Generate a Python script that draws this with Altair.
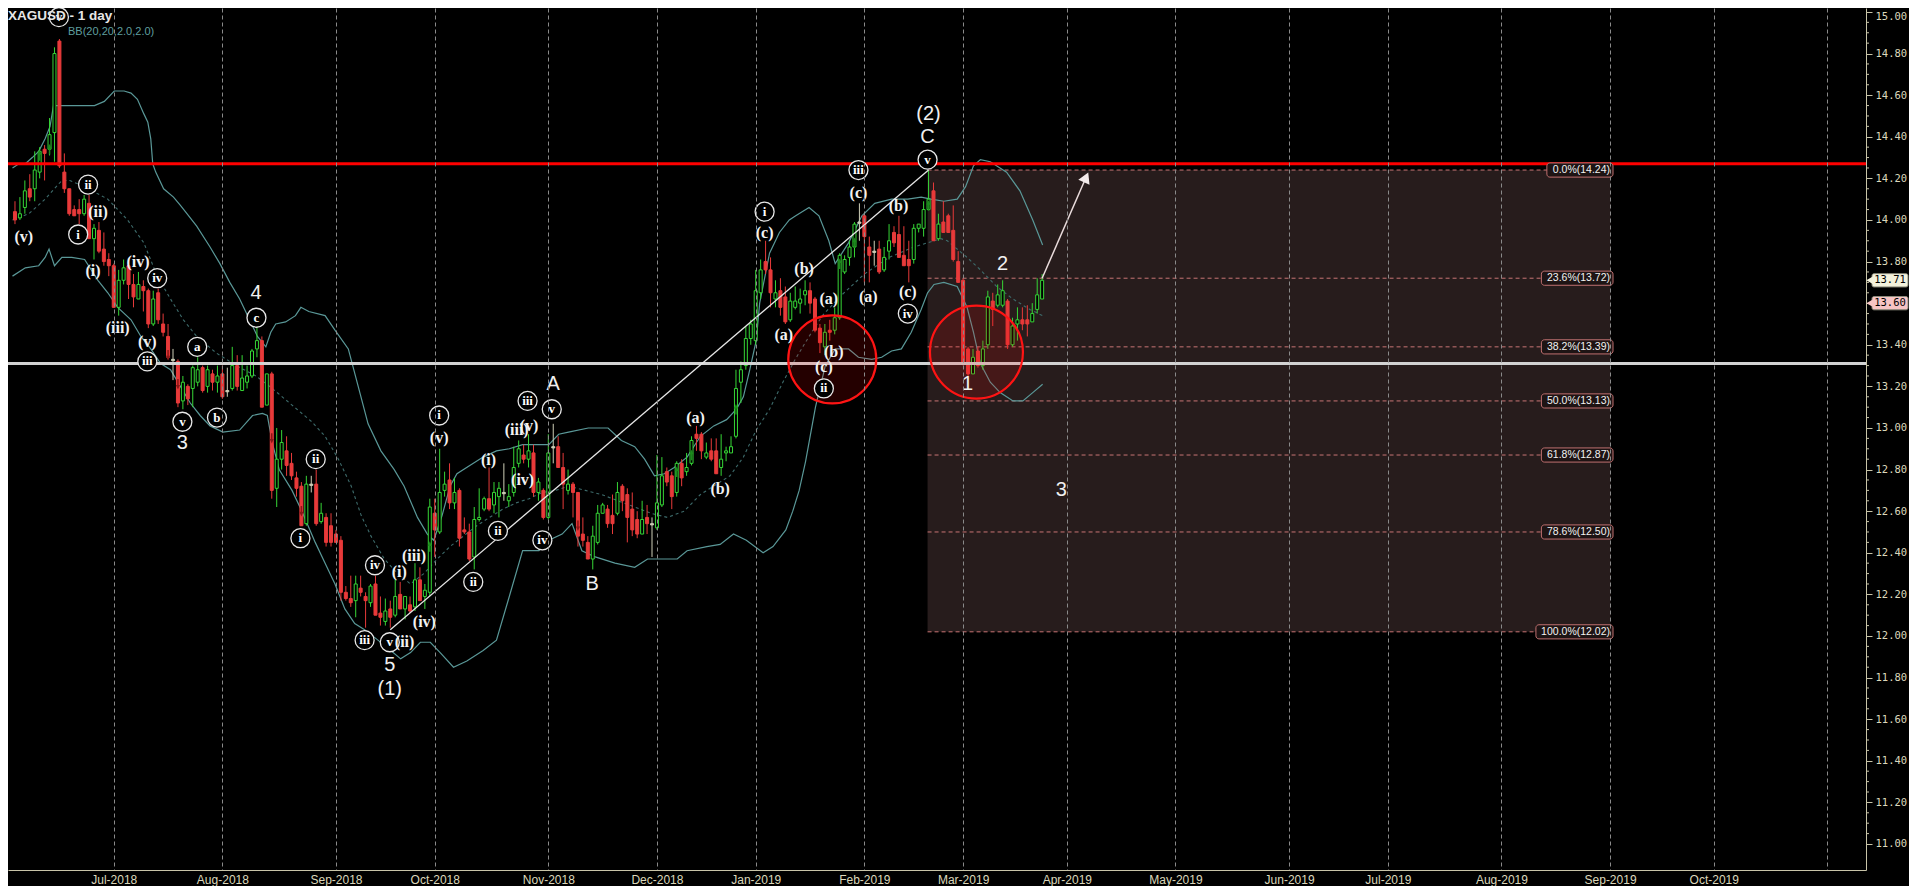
import json
import altair as alt
import pandas as pd

# ---------------- layout ----------------
W, H = 1858, 862
PAD_RIGHT, PAD_BOTTOM = 43, 16
PX_PER_BAR = 4.965
X_MIN = -0.4
X_MAX = X_MIN + W / PX_PER_BAR
Y_MAX = 15.019
Y_MIN = 10.875

# ---------------- candle data (bar index = weekday since 2018-06-04) ----------------
opens = [
    14.04, 14.01, 14.06, 14.15, 14.15, 14.23, 14.34, 14.34, 14.42, 14.86,
    14.23, 14.15, 14.05, 14.05, 14.03, 14.08, 13.91, 13.95, 13.86, 13.81,
    13.78, 13.58, 13.71, 13.78, 13.69, 13.62, 13.68, 13.66, 13.50, 13.65,
    13.50, 13.44, 13.33, 13.32, 13.13, 13.20, 13.19, 13.22, 13.29, 13.20,
    13.26, 13.22, 13.26, 13.18, 13.19, 13.30, 13.18, 13.22, 13.25, 13.38,
    13.42, 13.11, 13.26, 12.71, 12.85, 12.89, 12.83, 12.76, 12.72, 12.54,
    12.73, 12.73, 12.55, 12.57, 12.53, 12.49, 12.46, 12.21, 12.18, 12.17,
    12.23, 12.19, 12.16, 12.25, 12.11, 12.07, 12.13, 12.10, 12.20, 12.13,
    12.15, 12.14, 12.27, 12.19, 12.21, 12.59, 12.50, 12.70, 12.75, 12.64,
    12.70, 12.51, 12.50, 12.38, 12.56, 12.61, 12.66, 12.63, 12.67, 12.69,
    12.65, 12.69, 12.83, 12.87, 12.85, 12.88, 12.69, 12.70, 12.57, 12.91,
    12.91, 12.81, 12.70, 12.73, 12.69, 12.49, 12.45, 12.37, 12.45, 12.59,
    12.61, 12.58, 12.59, 12.72, 12.68, 12.61, 12.56, 12.49, 12.57, 12.54,
    12.52, 12.63, 12.79, 12.77, 12.69, 12.83, 12.79, 12.83, 12.97, 12.97,
    12.86, 12.89, 12.89, 12.81, 12.88, 12.88, 12.96, 13.22, 13.30, 13.43,
    13.42, 13.65, 13.80, 13.76, 13.62, 13.66, 13.63, 13.52, 13.58, 13.60,
    13.64, 13.66, 13.62, 13.48, 13.39, 13.47, 13.47, 13.53, 13.75, 13.82,
    13.87, 13.99, 14.02, 13.87, 13.85, 13.86, 13.76, 13.85, 13.94, 13.93,
    13.83, 13.81, 13.81, 13.96, 13.96, 14.05, 14.14, 13.91, 13.99, 14.02,
    13.95, 13.80, 13.71, 13.38, 13.26, 13.37, 13.30, 13.40, 13.61, 13.59,
    13.59, 13.61, 13.40, 13.50, 13.52, 13.52, 13.51, 13.57, 13.62,
]
highs = [
    14.09, 14.11, 14.19, 14.22, 14.33, 14.35, 14.36, 14.49, 14.83, 14.87,
    14.32, 14.15, 14.07, 14.10, 14.12, 14.12, 13.98, 13.99, 13.94, 13.84,
    13.79, 13.76, 13.81, 13.79, 13.74, 13.75, 13.71, 13.67, 13.66, 13.67,
    13.55, 13.50, 13.38, 13.33, 13.25, 13.21, 13.30, 13.34, 13.30, 13.30,
    13.28, 13.30, 13.30, 13.29, 13.39, 13.35, 13.35, 13.30, 13.38, 13.49,
    13.44, 13.26, 13.27, 13.00, 12.99, 12.96, 12.88, 12.79, 12.74, 12.77,
    12.77, 12.80, 12.64, 12.59, 12.59, 12.51, 12.48, 12.24, 12.29, 12.29,
    12.29, 12.21, 12.25, 12.29, 12.19, 12.18, 12.17, 12.27, 12.26, 12.19,
    12.19, 12.35, 12.33, 12.25, 12.66, 12.66, 12.90, 12.79, 12.83, 12.76,
    12.71, 12.57, 12.54, 12.62, 12.71, 12.67, 12.81, 12.74, 12.74, 12.83,
    12.73, 12.91, 12.94, 12.92, 12.97, 12.92, 12.76, 12.71, 12.97, 13.02,
    12.96, 12.88, 12.80, 12.74, 12.69, 12.57, 12.48, 12.53, 12.63, 12.64,
    12.63, 12.68, 12.74, 12.73, 12.71, 12.69, 12.60, 12.65, 12.63, 12.57,
    12.87, 12.86, 12.81, 12.79, 12.84, 12.85, 12.88, 12.96, 13.01, 12.98,
    12.93, 12.95, 12.95, 12.97, 12.91, 12.96, 13.28, 13.32, 13.49, 13.52,
    13.76, 13.81, 13.90, 13.82, 13.71, 13.72, 13.68, 13.65, 13.68, 13.67,
    13.71, 13.70, 13.63, 13.50, 13.50, 13.52, 13.58, 13.84, 13.83, 13.90,
    13.99, 14.08, 14.03, 13.92, 13.90, 13.90, 13.87, 13.98, 13.97, 14.02,
    13.97, 13.90, 13.98, 13.98, 14.09, 14.24, 14.18, 14.03, 14.09, 14.03,
    14.07, 13.85, 13.72, 13.39, 13.38, 13.39, 13.42, 13.66, 13.65, 13.69,
    13.71, 13.62, 13.53, 13.58, 13.58, 13.59, 13.60, 13.72, 13.74,
]
lows = [
    13.98, 14.00, 14.03, 14.09, 14.09, 14.20, 14.19, 14.31, 14.28, 14.25,
    14.13, 14.02, 14.02, 13.98, 14.02, 13.91, 13.81, 13.84, 13.78, 13.73,
    13.58, 13.54, 13.69, 13.62, 13.58, 13.62, 13.56, 13.48, 13.49, 13.50,
    13.44, 13.33, 13.23, 13.10, 13.09, 13.11, 13.10, 13.20, 13.17, 13.17,
    13.18, 13.17, 13.14, 13.15, 13.18, 13.18, 13.18, 13.19, 13.24, 13.34,
    13.10, 13.11, 12.66, 12.62, 12.80, 12.77, 12.75, 12.67, 12.53, 12.53,
    12.69, 12.53, 12.54, 12.43, 12.43, 12.45, 12.17, 12.17, 12.14, 12.09,
    12.19, 12.04, 12.14, 12.10, 12.05, 12.05, 12.04, 12.09, 12.13, 12.08,
    12.11, 12.12, 12.17, 12.13, 12.19, 12.38, 12.49, 12.67, 12.61, 12.61,
    12.43, 12.49, 12.36, 12.32, 12.55, 12.60, 12.60, 12.59, 12.57, 12.65,
    12.62, 12.67, 12.81, 12.83, 12.81, 12.67, 12.65, 12.56, 12.56, 12.83,
    12.81, 12.61, 12.68, 12.57, 12.43, 12.43, 12.37, 12.32, 12.44, 12.59,
    12.52, 12.49, 12.58, 12.60, 12.45, 12.48, 12.47, 12.49, 12.49, 12.38,
    12.51, 12.62, 12.72, 12.61, 12.67, 12.72, 12.77, 12.82, 12.89, 12.85,
    12.85, 12.84, 12.78, 12.77, 12.84, 12.88, 12.95, 13.12, 13.28, 13.40,
    13.40, 13.62, 13.74, 13.58, 13.58, 13.54, 13.50, 13.51, 13.57, 13.55,
    13.59, 13.55, 13.46, 13.36, 13.35, 13.42, 13.45, 13.52, 13.74, 13.78,
    13.82, 13.90, 13.70, 13.70, 13.78, 13.74, 13.75, 13.81, 13.87, 13.82,
    13.78, 13.70, 13.79, 13.94, 13.92, 14.05, 13.90, 13.90, 13.94, 13.94,
    13.80, 13.70, 13.30, 13.25, 13.26, 13.29, 13.28, 13.38, 13.49, 13.58,
    13.58, 13.38, 13.39, 13.42, 13.47, 13.44, 13.51, 13.55, 13.62,
]
closes = [
    14.00, 14.03, 14.14, 14.11, 14.24, 14.33, 14.32, 14.41, 14.80, 14.26,
    14.15, 14.03, 14.02, 14.03, 14.10, 13.91, 13.96, 13.85, 13.80, 13.78,
    13.58, 13.71, 13.77, 13.69, 13.63, 13.69, 13.66, 13.50, 13.62, 13.52,
    13.46, 13.34, 13.33, 13.12, 13.22, 13.14, 13.29, 13.28, 13.18, 13.28,
    13.22, 13.25, 13.15, 13.18, 13.30, 13.20, 13.24, 13.25, 13.37, 13.42,
    13.10, 13.26, 12.70, 12.85, 12.93, 12.82, 12.77, 12.71, 12.53, 12.73,
    12.73, 12.54, 12.59, 12.45, 12.45, 12.45, 12.21, 12.18, 12.16, 12.25,
    12.21, 12.17, 12.24, 12.10, 12.09, 12.12, 12.09, 12.19, 12.13, 12.19,
    12.12, 12.27, 12.17, 12.22, 12.62, 12.51, 12.69, 12.73, 12.64, 12.69,
    12.47, 12.50, 12.37, 12.56, 12.57, 12.66, 12.61, 12.69, 12.71, 12.69,
    12.67, 12.81, 12.90, 12.85, 12.89, 12.69, 12.74, 12.57, 12.88, 12.91,
    12.81, 12.73, 12.73, 12.69, 12.48, 12.46, 12.37, 12.48, 12.59, 12.63,
    12.54, 12.54, 12.69, 12.65, 12.57, 12.51, 12.49, 12.56, 12.54, 12.54,
    12.64, 12.77, 12.74, 12.67, 12.83, 12.76, 12.81, 12.94, 12.95, 12.89,
    12.88, 12.85, 12.78, 12.85, 12.89, 12.91, 13.19, 13.28, 13.43, 13.50,
    13.66, 13.76, 13.76, 13.65, 13.65, 13.58, 13.51, 13.61, 13.61, 13.62,
    13.66, 13.60, 13.47, 13.41, 13.46, 13.46, 13.53, 13.83, 13.81, 13.87,
    13.98, 13.99, 13.92, 13.83, 13.85, 13.75, 13.82, 13.90, 13.89, 13.82,
    13.78, 13.78, 13.96, 13.98, 14.05, 14.10, 13.90, 13.98, 13.94, 13.94,
    13.81, 13.70, 13.31, 13.26, 13.34, 13.30, 13.38, 13.63, 13.57, 13.64,
    13.66, 13.40, 13.49, 13.52, 13.50, 13.50, 13.55, 13.64, 13.71,
]

# ---------------- Bollinger bands ----------------
bb_upper_i = [-0.5, 0.8, 2.1, 3.5, 4.8, 6.1, 7.1, 7.8, 12.8, 16.1, 18.1, 20.1, 22.1, 23.5, 24.8,
              26.1, 26.9, 27.5, 27.9, 28.5, 30.1, 32.1, 33.5, 34.5, 36.8, 39.5, 41.5, 43.5, 45.5,
              47.5, 49.1, 50.8, 51.8, 52.8, 54.8, 56.8, 57.9, 59.5, 62.8, 64.8, 67.5, 69.5, 71.5,
              74.1, 76.8, 78.8, 81.5, 83.5, 84.8, 86.5, 88.1, 89.5, 92.1, 94.8, 97.5, 100.1, 102.8,
              105.5, 108.1, 110.1, 112.1, 116.1, 120.1, 122.8, 125.5, 127.5, 129.5, 131.5, 133.5,
              136.1, 138.8, 141.5, 144.1, 146.1, 147.5, 148.8, 150.1, 150.8, 152.8, 154.8, 156.8,
              158.1, 160.8, 162.8, 164.8, 166.1, 168.8, 171.5, 174.1, 177.5, 180.8, 183.5, 185.5,
              188.1, 190.8, 192.5, 194.1, 195.5, 197.5, 200.8, 203.5, 206.1, 208.1]
bb_upper_p = [14.25, 14.27, 14.27, 14.30, 14.33, 14.39, 14.45, 14.55, 14.55, 14.55, 14.57, 14.62,
              14.62, 14.61, 14.58, 14.51, 14.47, 14.39, 14.27, 14.23, 14.15, 14.11, 14.07, 14.04,
              13.97, 13.87, 13.79, 13.70, 13.62, 13.52, 13.44, 13.39, 13.46, 13.50, 13.51, 13.54,
              13.58, 13.56, 13.54, 13.47, 13.38, 13.20, 13.02, 12.89, 12.80, 12.72, 12.57, 12.49,
              12.46, 12.58, 12.72, 12.78, 12.82, 12.86, 12.89, 12.90, 12.92, 12.92, 12.92, 12.97,
              12.98, 13.00, 13.00, 12.94, 12.91, 12.85, 12.77, 12.78, 12.81, 12.86, 12.96, 13.01,
              13.04, 13.09, 13.15, 13.28, 13.42, 13.60, 13.84, 13.94, 14.00, 14.02, 14.06, 14.02,
              13.90, 13.79, 13.89, 14.02, 14.08, 14.10, 14.10, 14.11, 14.10, 14.09, 14.10, 14.16,
              14.26, 14.29, 14.28, 14.23, 14.14, 14.00, 13.88]
bb_mid_i = [-0.5, 2.8, 6.1, 9.5, 11.1, 14.1, 18.8, 22.8, 26.1, 28.8, 31.5, 34.1, 36.8, 40.8, 44.8,
            48.8, 52.1, 56.1, 60.1, 62.8, 65.5, 68.1, 70.1, 72.1, 74.8, 77.5, 80.1, 82.8, 85.5,
            88.1, 90.8, 93.5, 96.1, 98.8, 101.5, 104.1, 106.8, 109.5, 112.1, 115.5, 118.8, 122.1,
            125.5, 128.8, 132.1, 135.5, 138.8, 142.1, 144.8, 147.5, 150.1, 152.8, 155.5, 158.0,
            160.8, 163.5, 167.0, 172.0, 177.0, 182.0, 187.5, 188.8, 192.8, 195.5, 198.8, 202.1,
            205.5, 208.1]
bb_mid_p = [14.00, 14.03, 14.10, 14.19, 14.19, 14.16, 14.10, 14.00, 13.89, 13.73, 13.62, 13.52,
            13.44, 13.36, 13.30, 13.25, 13.19, 13.11, 13.03, 12.96, 12.85, 12.72, 12.58, 12.48,
            12.37, 12.30, 12.25, 12.30, 12.37, 12.43, 12.48, 12.53, 12.57, 12.61, 12.64, 12.66,
            12.69, 12.70, 12.72, 12.70, 12.68, 12.65, 12.62, 12.59, 12.57, 12.60, 12.68, 12.73,
            12.77, 12.86, 12.99, 13.09, 13.22, 13.33, 13.44, 13.54, 13.63, 13.74, 13.82, 13.87,
            13.91, 13.90, 13.82, 13.76, 13.68, 13.62, 13.57, 13.54]
bb_low_i = [-0.5, 2.1, 4.8, 6.1, 6.9, 8.0, 9.5, 11.5, 14.1, 16.8, 18.8, 20.8, 23.5, 25.5, 27.5,
            29.5, 31.5, 33.5, 35.5, 37.5, 39.5, 42.1, 45.5, 48.1, 50.1, 51.1, 52.1, 53.5, 56.1,
            58.1, 60.8, 62.8, 64.8, 66.8, 68.8, 70.8, 73.5, 76.1, 78.1, 80.1, 82.1, 84.1, 86.1,
            88.8, 91.5, 94.8, 97.5, 100.1, 102.8, 106.1, 108.1, 110.8, 112.8, 114.8, 117.5, 121.5,
            125.5, 128.1, 130.8, 134.1, 136.1, 140.1, 142.8, 145.5, 148.1, 151.5, 153.5, 156.1,
            157.5, 158.8, 160.1, 162.1, 164.1, 166.1, 168.8, 170.8, 173.5, 175.5, 177.5, 179.5,
            181.5, 183.5, 184.8, 186.1, 188.1, 190.8, 192.8, 194.1, 195.5, 197.5, 199.5, 202.1,
            204.1, 206.1, 208.1]
bb_low_p = [13.73, 13.77, 13.78, 13.82, 13.86, 13.78, 13.82, 13.82, 13.81, 13.71, 13.65, 13.58,
            13.52, 13.44, 13.38, 13.31, 13.28, 13.20, 13.12, 13.06, 13.01, 12.98, 12.99, 13.06,
            13.07, 13.06, 12.93, 12.80, 12.70, 12.60, 12.45, 12.35, 12.25, 12.13, 12.06, 12.03,
            11.98, 11.93, 11.89, 11.92, 11.97, 11.97, 11.92, 11.85, 11.88, 11.93, 11.98, 12.19,
            12.41, 12.41, 12.46, 12.49, 12.54, 12.41, 12.38, 12.35, 12.33, 12.37, 12.37, 12.37,
            12.41, 12.43, 12.44, 12.49, 12.46, 12.40, 12.43, 12.51, 12.60, 12.70, 12.84, 13.10,
            13.30, 13.38, 13.38, 13.34, 13.33, 13.34, 13.37, 13.38, 13.46, 13.57, 13.65, 13.69,
            13.70, 13.68, 13.58, 13.46, 13.31, 13.22, 13.17, 13.13, 13.13, 13.17, 13.21]

# ---------------- horizontal levels, fib ----------------
hline_price = [14.27, 13.31]
hline_color = ["#ff0000", "#d2d2d2"]
fib_pct = ["0.0%", "23.6%", "38.2%", "50.0%", "61.8%", "78.6%", "100.0%"]
fib_price = [14.24, 13.72, 13.39, 13.13, 12.87, 12.50, 12.02]
fib_start, fib_end = 184.8, 323.1

# ---------------- wave annotations ----------------
circ_text = ["v", "ii", "i", "iv", "iii", "v", "a", "b", "c", "ii", "i", "iv", "iii", "v", "i",
             "ii", "ii", "iii", "v", "iv", "i", "ii", "iii", "iv", "v"]
circ_i = [8.9, 14.8, 12.8, 28.8, 26.8, 33.9, 36.9, 40.9, 48.9, 60.9, 57.8, 72.9, 70.8, 75.9, 85.9,
          97.8, 92.8, 103.8, 108.7, 106.8, 151.8, 163.8, 170.8, 180.8, 184.8]
circ_p = [14.975, 14.17, 13.93, 13.72, 13.32, 13.03, 13.39, 13.05, 13.53, 12.85, 12.47, 12.34, 11.98,
          11.97, 13.06, 12.505, 12.26, 13.13, 13.09, 12.46, 14.04, 13.19, 14.24, 13.55, 14.29]

paren_text = ["(v)", "(ii)", "(i)", "(iv)", "(iii)", "(v)", "(v)", "(i)", "(iii)", "(ii)", "(iv)",
              "(i)", "(iv)", "(iii)", "(v)", "(a)", "(b)", "(a)", "(c)", "(b)", "(a)", "(b)", "(c)",
              "(c)", "(b)", "(a)", "(c)"]
paren_i = [1.8, 16.8, 15.8, 24.9, 20.8, 26.8, 85.9, 77.8, 80.8, 78.9, 82.9, 95.9, 102.8, 101.6,
           104.1, 137.8, 142.8, 155.7, 151.8, 159.8, 164.8, 165.8, 163.8, 170.8, 178.9, 172.8, 180.8]
paren_p = [13.92, 14.04, 13.755, 13.80, 13.48, 13.415, 12.95, 12.31, 12.385, 11.97, 12.065, 12.845,
           12.75, 12.99, 13.01, 13.05, 12.705, 13.445, 13.935, 13.764, 13.62, 13.364, 13.295, 14.13,
           14.067, 13.63, 13.655]

plain_text = ["4", "3", "5", "(1)", "A", "B", "C", "(2)", "1", "2", "3"]
plain_i = [48.8, 33.9, 75.9, 75.9, 109.0, 116.9, 184.8, 185.0, 192.9, 200.0, 211.9]
plain_p = [13.65, 12.93, 11.86, 11.745, 13.21, 12.25, 14.40, 14.51, 13.21, 13.79, 12.70]

up_arrow_i = [5, 7, 84, 134, 137, 146, 167, 170, 185]
up_arrow_p = [14.31, 14.34, 12.43, 12.79, 12.87, 13.09, 13.79, 13.89, 14.07]
down_arrow_i = [31, 33, 52, 58, 114]
down_arrow_p = [13.35, 13.21, 12.95, 12.60, 12.53]

red_circle_i = [165.5, 194.7]
red_circle_p = [13.33, 13.365]
red_circle_diam = [88, 93]

trend_i = [76, 185]
trend_p = [12.03, 14.24]
proj_i = [208, 216.9]
proj_p = [13.72, 14.205]

tag_price = [13.71, 13.60]
tag_fill = ["#f4f2dc", "#f6c4c4"]

# ---------------- x axis months ----------------
month_starts = ["2018-07-01", "2018-08-01", "2018-09-01", "2018-10-01", "2018-11-01",
                "2018-12-01", "2019-01-01", "2019-02-01", "2019-03-01", "2019-04-01",
                "2019-05-01", "2019-06-01", "2019-07-01", "2019-08-01", "2019-09-01",
                "2019-10-01", "2019-11-01"]
month_labels = ["Jul-2018", "Aug-2018", "Sep-2018", "Oct-2018", "Nov-2018", "Dec-2018",
                "Jan-2019", "Feb-2019", "Mar-2019", "Apr-2019", "May-2019", "Jun-2019",
                "Jul-2019", "Aug-2019", "Sep-2019", "Oct-2019", ""]
holidays = pd.to_datetime(["2018-12-25", "2019-01-01"])
days = pd.bdate_range("2018-06-04", periods=440)
days = days[~days.isin(holidays)]
month_pos = [int(days.searchsorted(pd.Timestamp(m))) for m in month_starts]
label_expr = f"{json.dumps(month_labels)}[indexof({json.dumps(month_pos)}, datum.value)]"

y_ticks = [round(11.0 + 0.2 * k, 2) for k in range(21)]
y_minor = [round(11.0 + 0.05 * k, 2) for k in range(81) if k % 4 != 0]

# ---------------- frames ----------------
n = min(len(opens), len(highs), len(lows), len(closes))
candles = pd.DataFrame({"i": list(range(n)), "o": opens[:n], "h": highs[:n],
                        "l": lows[:n], "c": closes[:n]})
candles["d"] = ["up" if c > o else ("down" if c < o else "flat")
                for o, c in zip(candles.o, candles.c)]
candles["top"] = candles[["o", "c"]].max(axis=1)
candles["bot"] = candles[["o", "c"]].min(axis=1)
thin = (candles.top - candles.bot) < 0.006
candles.loc[thin, "bot"] = candles.loc[thin, "top"] - 0.006


def band(name, xs_, ps_):
    m = min(len(xs_), len(ps_))
    return pd.DataFrame({"band": [name] * m, "i": xs_[:m], "p": ps_[:m]})


bb_solid = pd.concat([band("upper", bb_upper_i, bb_upper_p), band("lower", bb_low_i, bb_low_p)])
bb_mid = band("mid", bb_mid_i, bb_mid_p)

xs = alt.Scale(domain=[X_MIN, X_MAX], nice=False, zero=False)
ys = alt.Scale(domain=[Y_MIN, Y_MAX], nice=False, zero=False)
x_axis = alt.Axis(values=month_pos, labelExpr=label_expr, grid=True, gridDash=[4, 3],
                  gridColor="#8a8a8a", gridWidth=1, ticks=False, domainColor="#c8c4a8",
                  labelColor="#dcd8bc", labelFont="Liberation Sans", labelFontSize=12,
                  labelPadding=4, labelOverlap=False, labelFlush=False, title=None, zindex=1)
y_axis = alt.Axis(orient="right", values=y_ticks, format=".2f", grid=False, tickSize=6,
                  tickColor="#c8c4a8", domainColor="#c8c4a8", labelColor="#dcd8bc",
                  labelFont="DejaVu Sans Mono", labelFontSize=10.5, labelPadding=3, title=None,
                  labelBaseline=alt.condition("datum.value >= 15", alt.value("top"),
                                              alt.value("middle")))


def X(f):
    return alt.X(f, type="quantitative", scale=xs, axis=x_axis)


def Y(f):
    return alt.Y(f, type="quantitative", scale=ys, axis=y_axis)


stroke_scale = alt.Scale(domain=["up", "down", "flat"], range=["#36d636", "#e83a3a", "#cfcfb8"])
fill_scale = alt.Scale(domain=["up", "down", "flat"], range=["#000000", "#e83a3a", "#cfcfb8"])

# fib box
fib_box = alt.Chart(pd.DataFrame({"x1": [fib_start], "x2": [fib_end],
                                  "y1": [fib_price[-1]], "y2": [fib_price[0]]})).mark_rect(
    color="#271c1c").encode(x=X("x1"), x2=alt.X2("x2"), y=Y("y1"), y2=alt.Y2("y2"))

fib_df = pd.DataFrame({"p": fib_price,
                       "label": [f"{a}({b:.2f})" for a, b in zip(fib_pct, fib_price)]})
fib_df["xs"] = fib_start
fib_df["xe"] = fib_end + 0.5
fib_df["xl"] = fib_df["xe"] - (fib_df["label"].str.len() * 5.5 + 6) / PX_PER_BAR
fib_df["y1"] = fib_df["p"] - 0.034
fib_df["y2"] = fib_df["p"] + 0.034

fib_lines = alt.Chart(fib_df).mark_rule(color="#c87474", strokeDash=[4, 3], strokeWidth=1).encode(
    x=X("xs"), x2=alt.X2("xe"), y=Y("p"))
fib_boxes = alt.Chart(fib_df).mark_rect(fill="#1e1414", stroke="#c07070", strokeWidth=1,
                                        cornerRadius=3).encode(
    x=X("xl"), x2=alt.X2("xe"), y=Y("y1"), y2=alt.Y2("y2"))
fib_text = alt.Chart(fib_df).mark_text(align="right", baseline="middle", dx=-3, color="#f2f2f2",
                                       font="Liberation Sans", fontSize=10.5).encode(
    x=X("xe"), y=Y("p"), text="label:N")

bands = alt.Chart(bb_solid).mark_line(color="#5a9898", strokeWidth=1.2).encode(
    x=X("i"), y=Y("p"), detail="band:N")
mid = alt.Chart(bb_mid).mark_line(color="#3d6b6b", strokeWidth=1.1, strokeDash=[3, 3]).encode(
    x=X("i"), y=Y("p"))

wicks = alt.Chart(candles).mark_rule(strokeWidth=1).encode(
    x=X("i"), y=Y("l"), y2=alt.Y2("h"),
    color=alt.Color("d:N", scale=stroke_scale, legend=None))
bodies = alt.Chart(candles).mark_bar(size=3, strokeWidth=1).encode(
    x=X("i"), y=Y("bot"), y2=alt.Y2("top"),
    fill=alt.Fill("d:N", scale=fill_scale, legend=None),
    stroke=alt.Stroke("d:N", scale=stroke_scale, legend=None))

hl = alt.Chart(pd.DataFrame({"p": hline_price, "col": hline_color})).mark_rule(strokeWidth=3).encode(
    y=Y("p"), x=alt.value(0), x2=alt.value(W), color=alt.Color("col:N", scale=None))

trend = alt.Chart(pd.DataFrame({"i": trend_i, "p": trend_p})).mark_line(
    color="#e6e6e6", strokeWidth=1.3).encode(x=X("i"), y=Y("p"))
proj = alt.Chart(pd.DataFrame({"i": proj_i, "p": proj_p})).mark_line(
    color="#eadcdc", strokeWidth=1.5).encode(x=X("i"), y=Y("p"))
proj_head = alt.Chart(pd.DataFrame({"i": proj_i[-1:], "p": proj_p[-1:]})).mark_point(
    shape="triangle-up", size=150, filled=True, color="#f2eaea", angle=24, opacity=1).encode(
    x=X("i"), y=Y("p"))

red_circles = alt.Chart(pd.DataFrame({"i": red_circle_i, "p": red_circle_p,
                                      "s": [d * d for d in red_circle_diam]})).mark_point(
    shape="circle", filled=True, color="#ff0000", fillOpacity=0.14, stroke="#ff1414",
    strokeWidth=2.2, strokeOpacity=1, opacity=1).encode(
    x=X("i"), y=Y("p"), size=alt.Size("s:Q", scale=None, legend=None))

ups = alt.Chart(pd.DataFrame({"i": up_arrow_i, "p": up_arrow_p})).mark_point(
    shape="arrow", size=110, filled=True, color="#1c8a1c", opacity=1).encode(x=X("i"), y=Y("p"))
downs = alt.Chart(pd.DataFrame({"i": down_arrow_i, "p": down_arrow_p})).mark_point(
    shape="arrow", size=110, filled=True, color="#8c1616", opacity=1, angle=180).encode(
    x=X("i"), y=Y("p"))

circ_df = pd.DataFrame({"t": circ_text, "i": circ_i, "p": circ_p})
circ_marks = alt.Chart(circ_df).mark_point(
    shape="circle", size=361, filled=True, color="#000000", stroke="#e8e8e8", strokeWidth=1.3,
    strokeOpacity=1, opacity=1).encode(x=X("i"), y=Y("p"))
circ_txt = alt.Chart(circ_df).mark_text(
    font="Liberation Serif", fontSize=13, fontWeight="bold", color="#ffffff", baseline="middle",
    align="center").encode(x=X("i"), y=Y("p"), text="t:N")

paren_txt = alt.Chart(pd.DataFrame({"t": paren_text, "i": paren_i, "p": paren_p})).mark_text(
    font="Liberation Serif", fontSize=16, fontWeight="bold", color="#f2f2f2", baseline="middle",
    align="center").encode(x=X("i"), y=Y("p"), text="t:N")
plain_txt = alt.Chart(pd.DataFrame({"t": plain_text, "i": plain_i, "p": plain_p})).mark_text(
    font="Liberation Sans", fontSize=20, color="#f0f0f0", baseline="middle",
    align="center").encode(x=X("i"), y=Y("p"), text="t:N")

minor = alt.Chart(pd.DataFrame({"p": y_minor})).mark_rule(color="#c8c4a8", strokeWidth=1).encode(
    y=Y("p"), x=alt.value(W), x2=alt.value(W + 3))

tag_df = pd.DataFrame({"p": tag_price, "f": tag_fill,
                       "t": [f"{v:.2f}" for v in tag_price]})
tag_df["p1"] = tag_df["p"] - 0.032
tag_df["p2"] = tag_df["p"] + 0.032
tag_rect = alt.Chart(tag_df).mark_rect(stroke="#8a8a7a", strokeWidth=1, cornerRadius=2).encode(
    y=Y("p1"), y2=alt.Y2("p2"), x=alt.value(W + 6), x2=alt.value(W + 42),
    fill=alt.Fill("f:N", scale=None))
tag_tip = alt.Chart(tag_df).mark_point(shape="triangle-left", size=70, filled=True,
                                       opacity=1).encode(
    y=Y("p"), x=alt.value(W + 4), color=alt.Color("f:N", scale=None))
tag_txt = alt.Chart(tag_df).mark_text(font="DejaVu Sans Mono", fontSize=10.5, color="#000000",
                                      baseline="middle", align="center").encode(
    y=Y("p"), x=alt.value(W + 24), text="t:N")

title = alt.Chart(pd.DataFrame({"t": ["XAGUSD - 1 day"]})).mark_text(
    align="left", baseline="top", font="Liberation Sans", fontSize=13.5, fontWeight="bold",
    color="#e6e6e6").encode(x=alt.value(0), y=alt.value(1), text="t:N")
subtitle = alt.Chart(pd.DataFrame({"t": ["BB(20,20,2.0,2.0)"]})).mark_text(
    align="left", baseline="middle", font="Liberation Sans", fontSize=11,
    color="#5f9f9f").encode(x=alt.value(60), y=alt.value(24), text="t:N")

chart = alt.layer(
    fib_box, fib_lines, bands, mid, wicks, bodies, hl, trend, proj, proj_head, red_circles,
    fib_boxes, fib_text, ups, downs, circ_marks, circ_txt, paren_txt, plain_txt, minor,
    tag_rect, tag_tip, tag_txt, title, subtitle,
).properties(
    width=W, height=H,
    padding={"left": 0, "top": 0, "right": PAD_RIGHT, "bottom": PAD_BOTTOM},
    autosize=alt.AutoSizeParams(type="none"),
).configure(background="#000000").configure_view(stroke=None)

chart.save("out.html", embed_options={"renderer": "svg", "actions": False})
